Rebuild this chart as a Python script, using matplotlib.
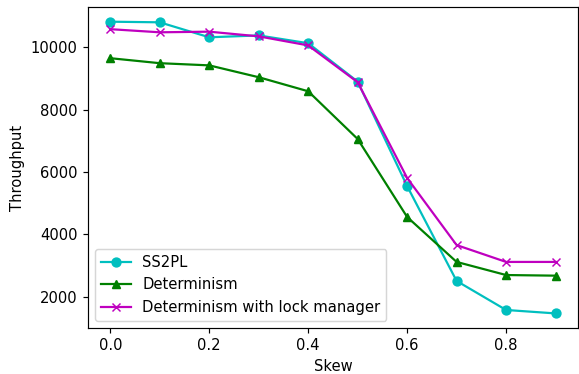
import matplotlib
matplotlib.use("Agg")
import matplotlib.pyplot as plt

# skew levels and measured throughput
skew = [0.0, 0.1, 0.2, 0.3, 0.4, 0.5, 0.6, 0.7, 0.8, 0.9]
ss2pl = [10820, 10800, 10320, 10380, 10130, 8900, 5550, 2510, 1580, 1470]
determinism = [9650, 9490, 9420, 9040, 8590, 7060, 4560, 3120, 2700, 2680]
det_lock_mgr = [10580, 10480, 10500, 10350, 10060, 8880, 5810, 3660, 3120, 3120]

dpi = 106
fig = plt.figure(figsize=(579 / dpi, 374 / dpi), dpi=dpi)
ax = fig.add_axes([0.152, 0.123, 0.846, 0.858])

ax.plot(skew, ss2pl, "c-o", label="SS2PL")
ax.plot(skew, determinism, "g-^", label="Determinism")
ax.plot(skew, det_lock_mgr, "m-x", label="Determinism with lock manager")

ax.set_xlabel("Skew")
ax.set_ylabel("Throughput")
ax.legend(loc="lower left")

fig.savefig("out.png", dpi=dpi)
